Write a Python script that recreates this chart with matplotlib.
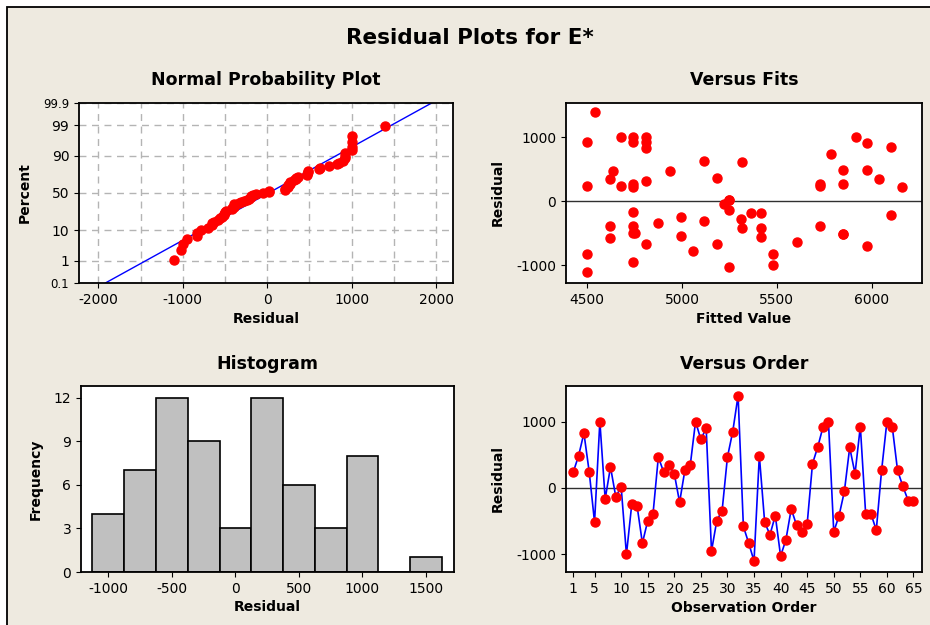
import matplotlib
matplotlib.use('Agg')
import matplotlib.pyplot as plt
from matplotlib.patches import Rectangle
from statistics import NormalDist, mean, stdev

# residuals in observation order (read from "Versus Order")
resid = [240, 485, 825, 240, -515, 1000, -165, 315, -135, 20,
         -1000, -245, -270, -830, -495, -390, 465, 240, 340, 215,
         -215, 270, 340, 1000, 730, 900, -950, -490, -340, 465,
         850, 1390, -580, -830, -1100, 485, -515, -705, -415, -1025,
         -780, -315, -560, -660, -540, 365, 620, 925, 1000, -660,
         -415, -50, 610, 215, 925, -390, -390, -635, 265, 1000,
         925, 265, 25, -190, -190]
# fitted values, same order (read from "Versus Fits")
fits = [5727, 5977, 4812, 4500, 5848, 4680, 4743, 4812, 5246, 5246,
        5477, 4996, 5309, 4500, 4750, 4621, 4636, 4680, 4621, 4743,
        6099, 4743, 6037, 4743, 5787, 5977, 4743, 4743, 4873, 4934,
        6099, 4541, 4621, 5477, 4500, 5848, 5850, 5977, 5417, 5246,
        5055, 5116, 5417, 5184, 4996, 5184, 5116, 4500, 4812, 4812,
        5318, 5221, 5318, 6160, 4743, 4743, 5727, 5606, 5727, 5917,
        4812, 5848, 5246, 5366, 5417]
order = list(range(1, len(resid) + 1))

pct_ticks = [0.1, 1, 10, 50, 90, 99, 99.9]
pct_labels = ['0.1', '1', '10', '50', '90', '99', '99.9']
hist_bins = [-1125, -875, -625, -375, -125, 125, 375, 625, 875, 1125, 1375, 1625]
order_ticks = [1, 5, 10, 15, 20, 25, 30, 35, 40, 45, 50, 55, 60, 65]

bg = '#eeeae0'
plt.rcParams['font.family'] = 'DejaVu Sans'
plt.rcParams['font.size'] = 10
plt.rcParams['axes.unicode_minus'] = False
plt.rcParams['xtick.direction'] = 'out'
plt.rcParams['ytick.direction'] = 'out'
plt.rcParams['axes.linewidth'] = 1.3

fig = plt.figure(figsize=(9.3, 6.25), dpi=100, facecolor='white')
fig.patches.append(Rectangle((7 / 930, -0.1), 1.1, 1.1 - 7 / 625, transform=fig.transFigure,
                             facecolor=bg, edgecolor='black', linewidth=1.3, zorder=-10))
fig.text(0.505, 0.94, 'Residual Plots for E*', ha='center', va='center',
         fontsize=15.5, fontweight='bold')

W, H = 930, 625
def box(l, t, r, b):
    return [l / W, 1 - b / H, (r - l) / W, (b - t) / H]

nd = NormalDist()

# normal probability plot
ax1 = fig.add_axes(box(79, 103, 453, 283))
srt = sorted(resid)
n = len(srt)
zs = [nd.inv_cdf((i + 1 - 0.3) / (n + 0.4)) for i in range(n)]
m, s = mean(resid), stdev(resid)
zlo, zhi = nd.inv_cdf(0.001), nd.inv_cdf(0.999)
ax1.plot([m + s * zlo, m + s * zhi], [zlo, zhi], color='blue', lw=1, zorder=2)
ax1.plot(srt, zs, 'o', color='red', ms=6.5, mec='red', zorder=3)
ax1.set_yticks([nd.inv_cdf(p / 100) for p in pct_ticks])
ax1.set_yticklabels(pct_labels)
for lab in (ax1.get_yticklabels()[0], ax1.get_yticklabels()[-1]):
    lab.set_fontsize(8.5)
ax1.set_xticks([-2000, -1000, 0, 1000, 2000])
ax1.set_xticks([-1500, -500, 500, 1500], minor=True)
ax1.tick_params(which='minor', length=0)
ax1.set_ylim(zlo, zhi)
ax1.set_xlim(-2230, 2200)
ax1.grid(True, which='both', color='#b4b4b4', ls=(0, (5, 4)), lw=1)
ax1.set_axisbelow(True)
ax1.set_title('Normal Probability Plot', fontsize=12.5, fontweight='bold', pad=13)
ax1.set_xlabel('Residual', fontweight='bold', labelpad=4)
ax1.set_ylabel('Percent', fontweight='bold', labelpad=8)

# versus fits
ax2 = fig.add_axes(box(566, 103, 922, 283))
ax2.axhline(0, color='#303030', lw=1)
ax2.plot(fits, resid, 'o', color='red', ms=6.5, mec='red')
ax2.set_xlim(4388, 6265)
ax2.set_ylim(-1274, 1530)
ax2.set_xticks([4500, 5000, 5500, 6000])
ax2.set_yticks([-1000, 0, 1000])
ax2.set_title('Versus Fits', fontsize=12.5, fontweight='bold', pad=13)
ax2.set_xlabel('Fitted Value', fontweight='bold', labelpad=4)
ax2.set_ylabel('Residual', fontweight='bold', labelpad=8)

# histogram
ax3 = fig.add_axes(box(81, 386, 454, 572))
ax3.hist(resid, bins=hist_bins, color='#c0c0c0', edgecolor='black', linewidth=1.2)
ax3.set_xlim(-1215, 1720)
ax3.set_ylim(0, 12.8)
ax3.set_xticks([-1000, -500, 0, 500, 1000, 1500])
ax3.set_yticks([0, 3, 6, 9, 12])
ax3.set_title('Histogram', fontsize=12.5, fontweight='bold', pad=12)
ax3.set_xlabel('Residual', fontweight='bold', labelpad=3)
ax3.set_ylabel('Frequency', fontweight='bold', labelpad=8)

# versus order
ax4 = fig.add_axes(box(566, 386, 922, 572))
ax4.axhline(0, color='#303030', lw=1)
ax4.plot(order, resid, '-', color='blue', lw=1.2)
ax4.plot(order, resid, 'o', color='red', ms=6.5, mec='red')
ax4.set_xlim(-0.37, 66.6)
ax4.set_ylim(-1265, 1535)
ax4.set_xticks(order_ticks)
ax4.set_yticks([-1000, 0, 1000])
ax4.set_title('Versus Order', fontsize=12.5, fontweight='bold', pad=12)
ax4.set_xlabel('Observation Order', fontweight='bold', labelpad=4)
ax4.set_ylabel('Residual', fontweight='bold', labelpad=8)

fig.savefig('out.png', dpi=100, facecolor=fig.get_facecolor())
